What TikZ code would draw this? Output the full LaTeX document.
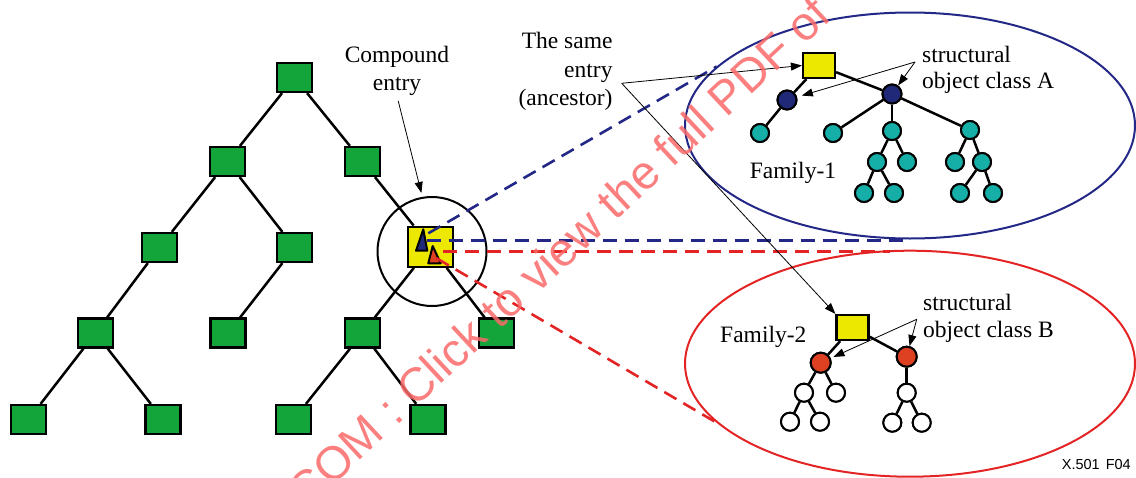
\documentclass[tikz,border=0pt]{standalone}
\usepackage{fontspec}
\setmainfont{Liberation Serif}
\newfontfamily\wmfont{Liberation Sans}
\usetikzlibrary{shapes.geometric,arrows.meta,calc}
\definecolor{sqgreen}{RGB}{20,165,58}
\definecolor{entyel}{RGB}{236,232,0}
\definecolor{navyfill}{RGB}{32,40,120}
\definecolor{tealfill}{RGB}{22,175,168}
\definecolor{redfill}{RGB}{222,64,34}
\definecolor{blueline}{RGB}{35,40,135}
\definecolor{redline}{RGB}{228,36,36}
\definecolor{wmred}{RGB}{250,105,105}
\begin{document}
\begin{tikzpicture}[x=1pt,y=-1pt,
  gsq/.style={draw=black, fill=sqgreen, line width=2.2pt, minimum width=35pt, minimum height=29pt, inner sep=0pt},
  ysq/.style={draw=black, fill=entyel, line width=2.2pt, minimum width=32pt, minimum height=25pt, inner sep=0pt},
  tedge/.style={line width=2.5pt},
  navyc/.style={circle, draw=black, fill=navyfill, line width=2pt, minimum size=19pt, inner sep=0pt},
  tealc/.style={circle, draw=black, fill=tealfill, line width=2pt, minimum size=18pt, inner sep=0pt},
  redn/.style={circle, draw=black, fill=redfill, line width=2pt, minimum size=20pt, inner sep=0pt},
  whtc/.style={circle, draw=black, fill=white, line width=2pt, minimum size=18pt, inner sep=0pt},
  lbl/.style={font=\fontsize{23.5}{28.5}\selectfont, inner sep=0pt},
  lbl2/.style={font=\fontsize{23.5}{26.5}\selectfont, inner sep=0pt, align=left, anchor=west},
  thinarr/.style={line width=0.8pt, -{Triangle[length=11pt,width=8pt]}},
  bdash/.style={draw=blueline, line width=2.6pt, dash pattern=on 14pt off 8pt},
  rdash/.style={draw=redline, line width=2.6pt, dash pattern=on 14pt off 8pt},
  fam/.style={ellipse, line width=2pt, minimum width=450pt, minimum height=226pt, inner sep=0pt},
]
\useasboundingbox (0,0) rectangle (1136,477);

% ---------- main tree ----------
\node[gsq] (r) at (294.5,77.5) {};
\node[gsq] (a) at (227.5,161.5) {};
\node[gsq] (b) at (362.5,161.5) {};
\node[gsq] (c) at (159.5,247.5) {};
\node[gsq] (d) at (294.5,247.5) {};
\node[draw=black, fill=entyel, line width=2.2pt, minimum width=45pt, minimum height=40pt, inner sep=0pt] (cmp) at (430.5,246.7) {};
\node[gsq] (e) at (95.5,333) {};
\node[gsq] (f) at (228,333) {};
\node[gsq] (g) at (362.5,333) {};
\node[gsq] (h) at (496.5,333) {};
\node[gsq] (i) at (28.5,419.5) {};
\node[gsq] (j) at (163,419.5) {};
\node[gsq] (k) at (293.5,419.5) {};
\node[gsq] (l) at (428,419.5) {};
\foreach \p/\q in {r/a,r/b,a/c,a/d,b/cmp,c/e,d/f,cmp/g,cmp/h,e/i,e/j,g/k,g/l}
  \draw[tedge] (\p) -- (\q);
\node[circle, draw=black, line width=2pt, minimum size=109pt, inner sep=0pt] (zoomc) at (432,251.5) {};

% triangles in the compound entry
\filldraw[fill=navyfill, draw=black, line width=2pt, line join=round] (423.3,229.3) -- (416,250.7) -- (427.3,250.7) -- cycle;
\filldraw[fill=redfill, draw=black, line width=2pt, line join=round] (432.7,246) -- (428.3,263.3) -- (440.7,263.3) -- cycle;
\coordinate (bA) at (428.3,233.3);
\coordinate (bB) at (426.7,240.5);
\coordinate (rA) at (443.3,251.5);
\coordinate (rB) at (436.7,258.3);

% ---------- family ellipses ----------
\node[fam, draw=blueline] (fam1) at (910,125.5) {};
\node[fam, draw=redline] (fam2) at (910,363.7) {};

% ---------- Family-1 ----------
\node[navyc] (n1L) at (787,100) {};
\node[navyc] (n1R) at (892,94) {};
\node[tealc] (t1) at (760,133) {};
\node[tealc] (t2) at (833,133) {};
\node[tealc] (t3) at (892,131) {};
\node[tealc] (t4) at (970,130) {};
\node[tealc] (t5) at (877,162) {};
\node[tealc] (t6) at (907,162) {};
\node[tealc] (t7) at (955,162) {};
\node[tealc] (t8) at (982,162) {};
\node[tealc] (t9) at (864,193) {};
\node[tealc] (t10) at (894,193) {};
\node[tealc] (t11) at (960,193) {};
\node[tealc] (t12) at (993,193) {};
\node[ysq] (f1r) at (819,65.5) {};
\foreach \p/\q in {f1r/n1L,f1r/n1R,n1L/t1,n1R/t2,n1R/t3,n1R/t4,t3/t5,t3/t6,t4/t7,t4/t8,t5/t9,t5/t10,t8/t11,t8/t12}
  \draw[tedge] (\p) -- (\q);
% redraw nodes on top of edges
\foreach \n/\s in {n1L/navyc,n1R/navyc,t1/tealc,t2/tealc,t3/tealc,t4/tealc,t5/tealc,t6/tealc,t7/tealc,t8/tealc,t9/tealc,t10/tealc,t11/tealc,t12/tealc,f1r/ysq}
  \node[\s] at (\n) {};

\node[lbl] (fam1lbl) at (793,173) {Family-1};
\node[lbl2] (socA) at (922,70) {structural\\object class A};
\coordinate (vA) at (915,62);
\draw[thinarr, shorten >=5pt] (vA) -- (n1L);
\draw[thinarr] (vA) -- (n1R);

% ---------- Family-2 ----------
\node[redn] (m1) at (820.7,362.7) {};
\node[redn] (m2) at (906.7,356.7) {};
\node[whtc] (w1) at (804,392.7) {};
\node[whtc] (w2) at (836,392.7) {};
\node[whtc] (w3) at (790,421.7) {};
\node[whtc] (w4) at (820,421.7) {};
\node[whtc] (w5) at (906.7,392.7) {};
\node[whtc] (w6) at (892.3,422.7) {};
\node[whtc] (w7) at (921.7,422.7) {};
\node[ysq] (f2r) at (852.5,327.5) {};
\foreach \p/\q in {f2r/m1,f2r/m2,m1/w1,m1/w2,w1/w3,w1/w4,m2/w5,w5/w6,w5/w7}
  \draw[tedge] (\p) -- (\q);
\foreach \n/\s in {m1/redn,m2/redn,w1/whtc,w2/whtc,w3/whtc,w4/whtc,w5/whtc,w6/whtc,w7/whtc,f2r/ysq}
  \node[\s] at (\n) {};

\node[lbl] (fam2lbl) at (763.3,337.3) {Family-2};
\node[lbl2] (socB) at (923,318.5) {structural\\object class B};
\coordinate (vB) at (916.7,319.3);
\draw[thinarr, shorten >=3pt] (vB) -- (m1);
\draw[thinarr] (vB) -- (m2);

% ---------- dashed zoom lines ----------
\draw[bdash] (bA) -- (fam1.163);
\draw[bdash] (bB) -- (bB -| fam1.268);
\draw[rdash] (rA) -- (rA -| fam2.100);
\draw[rdash] (rB) -- (fam2.197);

% ---------- labels with arrows ----------
\node[lbl, align=center] (cmptxt) at (397,71) {Compound\\entry};
\draw[thinarr, shorten <=5pt, shorten >=4pt] (cmptxt.south) -- (zoomc.100);

\node[lbl, align=right, anchor=east] (same) at (612.7,71.5) {The same\\entry\\(ancestor)};
\coordinate (sv) at (621.7,83.3);
\draw[thinarr] (sv) -- (f1r.west);
\draw[thinarr] (sv) -- (f2r.north west);

\node[font=\wmfont\fontsize{14.5}{17}\selectfont, anchor=west, inner sep=0pt] (figid) at (1061.7,465) {X.501\hspace{6pt}F04};

% ---------- watermark ----------
\begin{scope}
\clip (0,0) rectangle (1136,477);
\node[font=\wmfont\fontsize{47}{50}\selectfont, text=wmred, rotate=43, anchor=west, inner sep=0pt, opacity=0.85] (wm) at (294.7,498) {COM : Click to view the full PDF of};
\end{scope}
\end{tikzpicture}
\end{document}
